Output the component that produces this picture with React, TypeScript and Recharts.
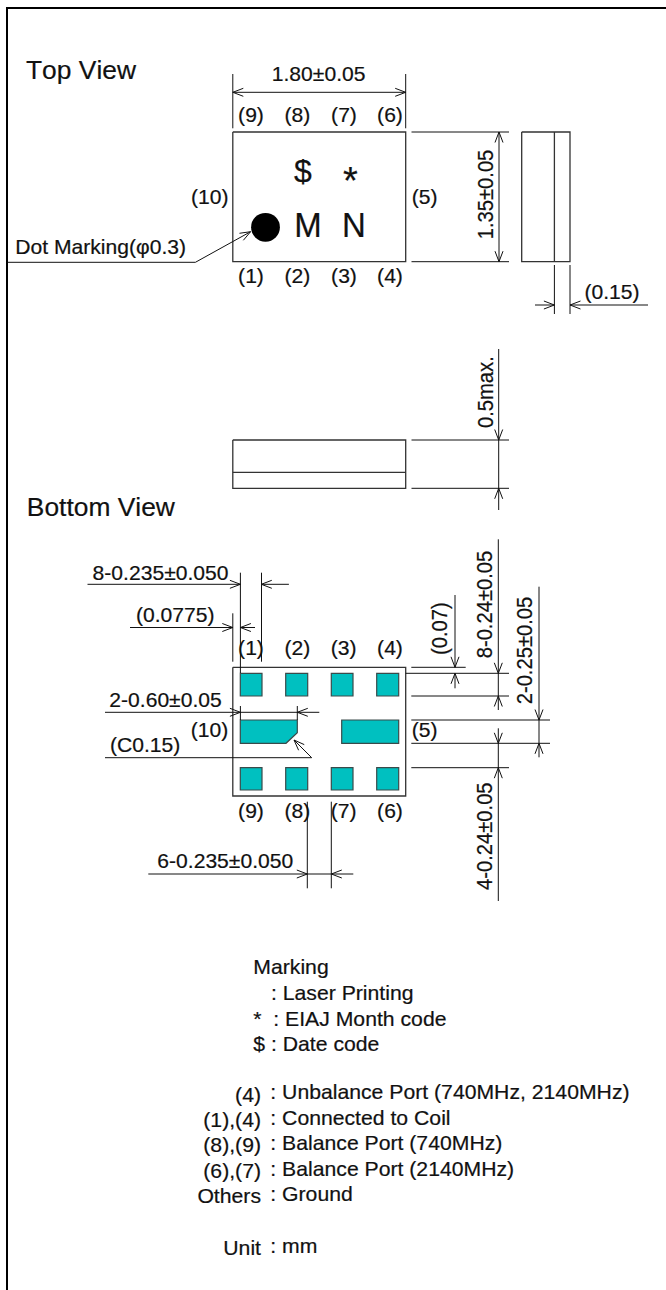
import React from 'react';
import { ScatterChart, Scatter, XAxis, YAxis } from 'recharts';

type P = [number, number];
type L = [number, number, string];

const WIDTH = 666;
const HEIGHT = 1290;

const box = (a: number, b: number, c: number, d: number): P[] => [[a, b], [c, b], [c, d], [a, d], [a, b]];
const seg = (a: number, b: number, c: number, d: number): P[] => [[a, b], [c, d]];

const framePaths: P[][] = [[[7, 1290], [7, 8], [666, 8]]];

const outlinePaths: P[][] = [
  box(232.8, 132, 405.7, 261.7),
  box(521.7, 132, 570, 261.7),
  seg(554.4, 132, 554.4, 261.7),
  box(232.8, 440, 405.7, 488.3),
  seg(232.8, 472.3, 405.7, 472.3),
  box(232.8, 667.3, 405.7, 796),
];

const dimPaths: P[][] = [
  // top view
  seg(232.8, 74, 232.8, 128.3), seg(405.7, 74, 405.7, 128.3), seg(232.8, 92.3, 405.7, 92.3),
  seg(411.5, 132, 509, 132), seg(411.5, 261.7, 509, 261.7), seg(499, 132, 499, 261.7),
  seg(554.4, 265, 554.4, 314), seg(570, 265, 570, 314), seg(535, 305, 554.4, 305), seg(570, 305, 648, 305),
  [[7.6, 262.3], [195.4, 262.3], [250.6, 231.7]],
  // side view
  seg(411.5, 440, 509, 440), seg(411.5, 488.3, 509, 488.3), seg(498.7, 349, 498.7, 510),
  // bottom view, upper
  seg(87.5, 584.3, 240.4, 584.3), seg(261.3, 584.3, 288.9, 584.3),
  seg(240.4, 572.7, 240.4, 673), seg(261.5, 572.7, 261.5, 661.7),
  seg(130, 627.5, 232.8, 627.5), seg(240.4, 627.5, 255, 627.5), seg(232.8, 613.3, 232.8, 661.7),
  // right side
  seg(455, 595, 455, 667.3), seg(455, 673.3, 455, 688.3),
  seg(411.3, 667.3, 465.7, 667.3), seg(405.7, 673.3, 509, 673.3), seg(411.3, 696, 509, 696),
  seg(498.3, 539.3, 498.3, 710), seg(539, 586.7, 539, 757.3),
  seg(411.3, 720, 550, 720), seg(411.3, 743.3, 550, 743.3), seg(411.3, 767.7, 509, 767.7),
  seg(498.3, 728.3, 498.3, 901),
  // 2-0.60
  seg(105, 712.3, 319.3, 712.3), seg(240.4, 706, 240.4, 720), seg(297.3, 706, 297.3, 720),
  // C0.15
  [[105, 757.7], [311.7, 757.7], [294, 740]],
  // 6-0.235
  seg(148.3, 874, 353.3, 874), seg(307.3, 801.7, 307.3, 888.3), seg(331.3, 801.7, 331.3, 888.3),
];

// tip position and a point on the shaft the head points away from
const arrowHeads: [number, number, number, number][] = [
  [232.8, 92.3, 242, 92.3], [405.7, 92.3, 396, 92.3],
  [499, 132, 499, 142], [499, 261.7, 499, 251],
  [554.4, 305, 544, 305], [570, 305, 580, 305],
  [250.6, 231.7, 195.4, 262.3],
  [498.7, 440, 498.7, 430], [498.7, 488.3, 498.7, 498],
  [240.4, 584.3, 230, 584.3], [261.3, 584.3, 272, 584.3],
  [232.8, 627.5, 222, 627.5], [240.4, 627.5, 250, 627.5],
  [455, 667.3, 455, 657], [455, 673.3, 455, 683],
  [498.3, 673.3, 498.3, 663], [498.3, 696, 498.3, 706],
  [539, 720, 539, 710], [539, 743.3, 539, 753],
  [498.3, 743.3, 498.3, 733], [498.3, 767.7, 498.3, 778],
  [240.4, 712.3, 230, 712.3], [297.3, 712.3, 307, 712.3],
  [294, 740, 311.7, 757.7],
  [307.3, 874, 297, 874], [331.3, 874, 341, 874],
];

const padPaths: P[][] = [
  box(240.3, 673.3, 262, 696), box(285.7, 673.3, 307.7, 696), box(331.3, 673.3, 353, 696), box(376.7, 673.3, 398.7, 696),
  [[240.3, 720], [297.3, 720], [297.3, 732.7], [286, 743.3], [240.3, 743.3], [240.3, 720]],
  box(341.7, 720, 398.7, 743.3),
  box(240.3, 767.7, 262, 790), box(285.7, 767.7, 307.7, 790), box(331.3, 767.7, 353, 790), box(376.7, 767.7, 398.7, 790),
];

const dotMark: P[] = [[265.5, 227.3]];

const headingLabels: L[] = [
  [26, 79.3, 'Top View'],
  [26.8, 515.7, 'Bottom View'],
];

const pinLabels: L[] = [
  [251, 121.5, '(9)'], [297.4, 121.5, '(8)'], [344, 121.5, '(7)'], [390, 121.5, '(6)'],
  [251, 283, '(1)'], [297.4, 283, '(2)'], [344, 283, '(3)'], [390, 283, '(4)'],
  [209.8, 204, '(10)'], [424.6, 204, '(5)'],
  [251, 655, '(1)'], [297.3, 655, '(2)'], [343.7, 655, '(3)'], [390, 655, '(4)'],
  [251, 818.3, '(9)'], [297.3, 818.3, '(8)'], [343.7, 818.3, '(7)'], [390, 818.3, '(6)'],
  [209.5, 736.7, '(10)'], [424.7, 736.7, '(5)'],
  [318.6, 81, '1.80±0.05'],
];

const dollarLabels: L[] = [[303, 182, '$']];
const markLabels: L[] = [[308, 236.7, 'M'], [354, 236.7, 'N']];
const starLabels: L[] = [[350.5, 193.5, '*']];

const dimLabels: L[] = [
  [15.3, 254, 'Dot Marking(φ0.3)'],
  [584.5, 299, '(0.15)'],
  [92.6, 580, '8-0.235±0.050'],
  [136, 621.7, '(0.0775)'],
  [109.3, 707.3, '2-0.60±0.05'],
  [110, 751.7, '(C0.15)'],
  [157.3, 868.3, '6-0.235±0.050'],
];

const verticalLabels: L[] = [
  [493, 239.3, '1.35±0.05'],
  [492.8, 428, '0.5max.'],
  [447, 655, '(0.07)'],
  [491.7, 658.3, '8-0.24±0.05'],
  [532.3, 704.3, '2-0.25±0.05'],
  [491.7, 890, '4-0.24±0.05'],
];

const noteLabels: L[] = [
  [253.3, 974, 'Marking'],
  [271, 1000, ': Laser Printing'],
  [253.3, 1025.7, '*'], [273.3, 1025.7, ': EIAJ Month code'],
  [253.3, 1050.7, '$'], [271, 1050.7, ': Date code'],
  [270.3, 1099.3, ': Unbalance Port (740MHz, 2140MHz)'],
  [270.3, 1125, ': Connected to Coil'],
  [270.3, 1150, ': Balance Port (740MHz)'],
  [270.3, 1176, ': Balance Port (2140MHz)'],
  [270.3, 1201, ': Ground'],
  [270.3, 1252.7, ': mm'],
];

const noteKeyLabels: L[] = [
  [261, 1102.3, '(4)'], [261, 1127.3, '(1),(4)'], [261, 1152.3, '(8),(9)'],
  [261, 1177.7, '(6),(7)'], [261, 1203.3, 'Others'], [261, 1255, 'Unit'],
];

const FONT = '"Liberation Sans", Arial, sans-serif';
const INK = '#111';
const TEAL = '#00C0C0';
const HEAD_LEN = 10.5;
const HEAD_HALF = 4;

const headPath = ([tx, ty, bx, by]: [number, number, number, number]): P[] => {
  const d = Math.hypot(tx - bx, ty - by);
  const ux = (tx - bx) / d;
  const uy = (ty - by) / d;
  return [
    [tx - ux * HEAD_LEN - uy * HEAD_HALF, ty - uy * HEAD_LEN + ux * HEAD_HALF],
    [tx, ty],
    [tx - ux * HEAD_LEN + uy * HEAD_HALF, ty - uy * HEAD_LEN - ux * HEAD_HALF],
  ];
};

const toPts = (p: P[]) => p.map(([x, y]) => ({ x, y }));
const toLabels = (l: L[]) => l.map(([x, y, text]) => ({ x, y, text }));
const noSymbol = () => null;

const polyline = (paths: P[][], key: string, stroke: string, strokeWidth: number) =>
  paths.map((p, i) => (
    <Scatter
      key={`${key}${i}`}
      data={toPts(p)}
      shape={noSymbol}
      line={{ stroke, strokeWidth, fill: 'none' }}
      lineType="joint"
      isAnimationActive={false}
    />
  ));

const filled = (paths: P[][], key: string) =>
  paths.map((p, i) => (
    <Scatter
      key={`${key}${i}`}
      data={toPts(p)}
      shape={noSymbol}
      line={(lp: any) => (
        <path
          d={lp.points.map((q: any, j: number) => `${j ? 'L' : 'M'}${q.x},${q.y}`).join('') + 'Z'}
          fill={TEAL}
          stroke="#3a4a4a"
          strokeWidth={1.2}
        />
      )}
      lineType="joint"
      isAnimationActive={false}
    />
  ));

const textShape = (size: number, anchor: string, rotate = 0, sx = 1.055, sy = 1.03) => (props: any) => (
  <text
    transform={`translate(${props.cx},${props.cy}) rotate(${rotate}) scale(${sx},${sy})`}
    textAnchor={anchor}
    fontFamily={FONT}
    fontSize={size}
    fill={INK}
    stroke={INK}
    strokeWidth={0.2}
    style={{ fontKerning: 'none' }}
  >
    {props.payload.text}
  </text>
);

const texts = (labels: L[], key: string, shape: any) => (
  <Scatter key={key} data={toLabels(labels)} shape={shape} isAnimationActive={false} />
);

const dotShape = (props: any) => <circle cx={props.cx} cy={props.cy} r={14.4} fill="#000" />;

export default function App() {
  return (
    <div style={{ position: 'absolute', left: 0, top: 0, width: WIDTH, height: HEIGHT, background: '#fff', overflow: 'hidden' }}>
      <ScatterChart width={WIDTH} height={HEIGHT} margin={{ top: 0, right: 0, bottom: 0, left: 0 }}>
        <XAxis type="number" dataKey="x" domain={[0, WIDTH]} hide allowDataOverflow />
        <YAxis type="number" dataKey="y" domain={[0, HEIGHT]} reversed hide allowDataOverflow />
        {polyline(framePaths, 'frame', '#000', 2)}
        {filled(padPaths, 'pad')}
        {polyline(outlinePaths, 'outline', '#333', 1.3)}
        {polyline(dimPaths, 'dim', INK, 1)}
        {polyline(arrowHeads.map(headPath), 'head', INK, 1)}
        <Scatter data={toPts(dotMark)} shape={dotShape} isAnimationActive={false} />
        {texts(headingLabels, 'headings', textShape(25.5, 'start', 0, 1.035, 1))}
        {texts(pinLabels, 'pins', textShape(20, 'middle'))}
        {texts(dollarLabels, 'dollar', textShape(32, 'middle', 0, 1, 1))}
        {texts(markLabels, 'marks', textShape(32, 'middle', 0, 1.03, 1.1))}
        {texts(starLabels, 'star', textShape(38, 'middle', 0, 1, 1))}
        {texts(dimLabels, 'dims', textShape(20, 'start'))}
        {texts(verticalLabels, 'verticals', textShape(20, 'start', -90, 1.01, 1.12))}
        {texts(noteLabels, 'notes', textShape(20, 'start', 0, 1.06, 1.02))}
        {texts(noteKeyLabels, 'noteKeys', textShape(20, 'end', 0, 1.06, 1.02))}
      </ScatterChart>
    </div>
  );
}
